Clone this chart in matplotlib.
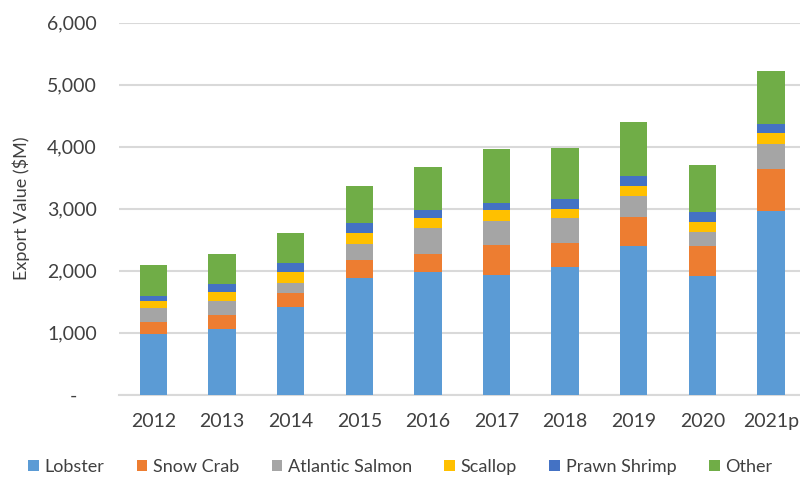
import matplotlib; matplotlib.use("Agg")
import matplotlib.pyplot as plt
from matplotlib.patches import Patch
from matplotlib.ticker import FuncFormatter
import numpy as np

years = ["2012", "2013", "2014", "2015", "2016", "2017", "2018", "2019", "2020", "2021p"]
lobster  = [972, 1063, 1410, 1885, 1977, 1938, 2052, 2399, 1918, 2958]
snowcrab = [200, 217, 237, 292, 292, 477, 400, 475, 475, 688]
salmon   = [222, 237, 152, 254, 415, 393, 400, 324, 231, 395]
scallop  = [118, 146, 178, 178, 162, 168, 151, 162, 166, 183]
prawn    = [86, 130, 146, 167, 136, 124, 157, 162, 161, 150]
other    = [486, 476, 486, 584, 691, 859, 820, 880, 750, 847]

series = [("Lobster", lobster, "#5B9BD5"),
          ("Snow Crab", snowcrab, "#ED7D31"),
          ("Atlantic Salmon", salmon, "#A5A5A5"),
          ("Scallop", scallop, "#FFC000"),
          ("Prawn Shrimp", prawn, "#4472C4"),
          ("Other", other, "#70AD47")]

plt.rcParams["font.family"] = ["Lato", "DejaVu Sans"]

fig = plt.figure(figsize=(8, 4.79), dpi=100)
ax = fig.add_axes([0.149, 0.176, 0.8575, 0.7766])

x = np.arange(len(years))
bottom = np.zeros(len(years))
for name, vals, col in series:
    ax.bar(x, vals, width=0.4, bottom=bottom, color=col, zorder=3)
    bottom += np.array(vals)

ax.set_xlim(-0.5, 9.5)
ax.set_ylim(0, 6000)
ax.set_yticks(range(0, 6001, 1000))
ax.yaxis.set_major_formatter(FuncFormatter(lambda v, p: "-    " if v == 0 else f"{int(v):,}"))
ax.set_xticks(x)
ax.set_xticklabels(years)
ax.tick_params(axis="both", length=0, labelsize=14, colors="#404040")
ax.tick_params(axis="y", pad=16)
ax.tick_params(axis="x", pad=13)
ax.grid(axis="y", color="#D9D9D9", linewidth=1.5, zorder=0)
for s in ["top", "right", "left"]:
    ax.spines[s].set_visible(False)
ax.spines["bottom"].set_color("#D9D9D9")
ax.spines["bottom"].set_linewidth(1.5)
ax.set_ylabel("Export Value ($M)", fontsize=13, color="#404040", labelpad=12)

handles = [Patch(facecolor=c, label=n) for n, _, c in series]
fig.legend(handles=handles, loc="center", bbox_to_anchor=(0.5, 0.025), ncol=6,
           frameon=False, fontsize=13, handlelength=0.6, handleheight=0.6,
           handletextpad=0.3, columnspacing=1.8, labelcolor="#404040")

fig.savefig("out.png", dpi=100)
